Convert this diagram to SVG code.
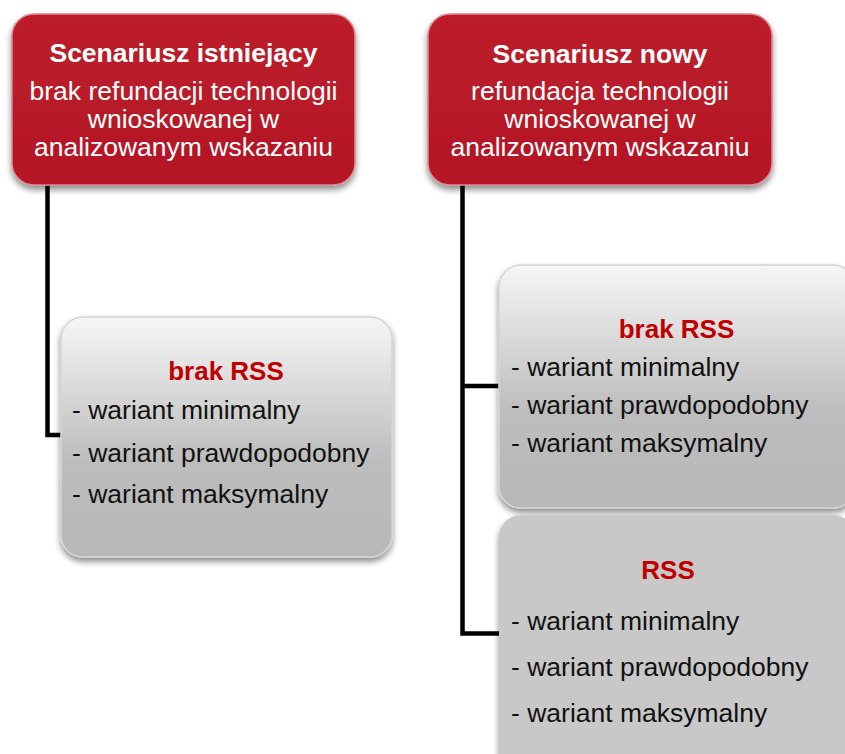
<svg xmlns="http://www.w3.org/2000/svg" width="845" height="754" viewBox="0 0 845 754">
<defs>
<linearGradient id="red" x1="0" y1="0" x2="0" y2="1">
<stop offset="0" stop-color="#bd1c2b"/>
<stop offset="1" stop-color="#b31826"/>
</linearGradient>
<linearGradient id="grey" x1="0" y1="0" x2="0" y2="1">
<stop offset="0" stop-color="#f6f6f6"/>
<stop offset="0.6" stop-color="#bdbdbd"/>
<stop offset="1" stop-color="#b8b8b8"/>
</linearGradient>
<filter id="sh" x="-10%" y="-10%" width="120%" height="125%">
<feDropShadow dx="0" dy="4" stdDeviation="3" flood-color="#000" flood-opacity="0.45"/>
</filter>
</defs>
<style>
.red{fill:url(#red);stroke:#d98a90;stroke-width:1.5;filter:url(#sh)}
.grey{fill:url(#grey);stroke:#d4d4d4;stroke-width:1.5;filter:url(#sh)}
.flat{fill:#c8c8c8;filter:url(#sh)}
text{font-family:"Liberation Sans",Arial,sans-serif;font-size:26.5px}
.w{fill:#fff;text-anchor:middle}
.wb{fill:#fff;text-anchor:middle;font-weight:bold}
.rb{fill:#c00000;text-anchor:middle;font-weight:bold;font-size:26px}
.k{fill:#111}
.conn{fill:none;stroke:#000;stroke-width:4.5;stroke-linejoin:miter}
</style>
<rect width="845" height="754" fill="#fff"/>
<g id="connectors">
<path class="conn" d="M47.5 185 V435 H63"/>
<path class="conn" d="M462.5 185 V633.5 H500"/>
<path class="conn" d="M462.5 386 H500"/>
</g>
<g id="box-istniejacy">
<rect class="red" x="12" y="14" width="343" height="171" rx="22"/>
<text class="wb" x="183.5" y="62">Scenariusz istniejący</text>
<text class="w" x="183.5" y="100">brak refundacji technologii</text>
<text class="w" x="183.5" y="128">wnioskowanej w</text>
<text class="w" x="183.5" y="156">analizowanym wskazaniu</text>
</g>
<g id="box-nowy">
<rect class="red" x="428" y="14" width="344" height="171" rx="22"/>
<text class="wb" x="600" y="63">Scenariusz nowy</text>
<text class="w" x="600" y="100">refundacja technologii</text>
<text class="w" x="600" y="128">wnioskowanej w</text>
<text class="w" x="600" y="156">analizowanym wskazaniu</text>
</g>
<g id="left-brak-rss">
<rect class="grey" x="61" y="317" width="331" height="240" rx="22"/>
<text class="rb" x="226" y="380">brak RSS</text>
<text class="k" x="72" y="419">- wariant minimalny</text>
<text class="k" x="72" y="462">- wariant prawdopodobny</text>
<text class="k" x="72" y="503">- wariant maksymalny</text>
</g>
<g id="right-brak-rss">
<rect class="grey" x="499" y="265" width="356" height="243" rx="22"/>
<text class="rb" x="676.5" y="338">brak RSS</text>
<text class="k" x="511" y="376">- wariant minimalny</text>
<text class="k" x="511" y="414">- wariant prawdopodobny</text>
<text class="k" x="511" y="452">- wariant maksymalny</text>
</g>
<g id="right-rss">
<rect class="flat" x="499" y="515" width="356" height="260" rx="22"/>
<text class="rb" x="668" y="579">RSS</text>
<text class="k" x="511" y="630">- wariant minimalny</text>
<text class="k" x="511" y="676">- wariant prawdopodobny</text>
<text class="k" x="511" y="722">- wariant maksymalny</text>
</g>
</svg>
